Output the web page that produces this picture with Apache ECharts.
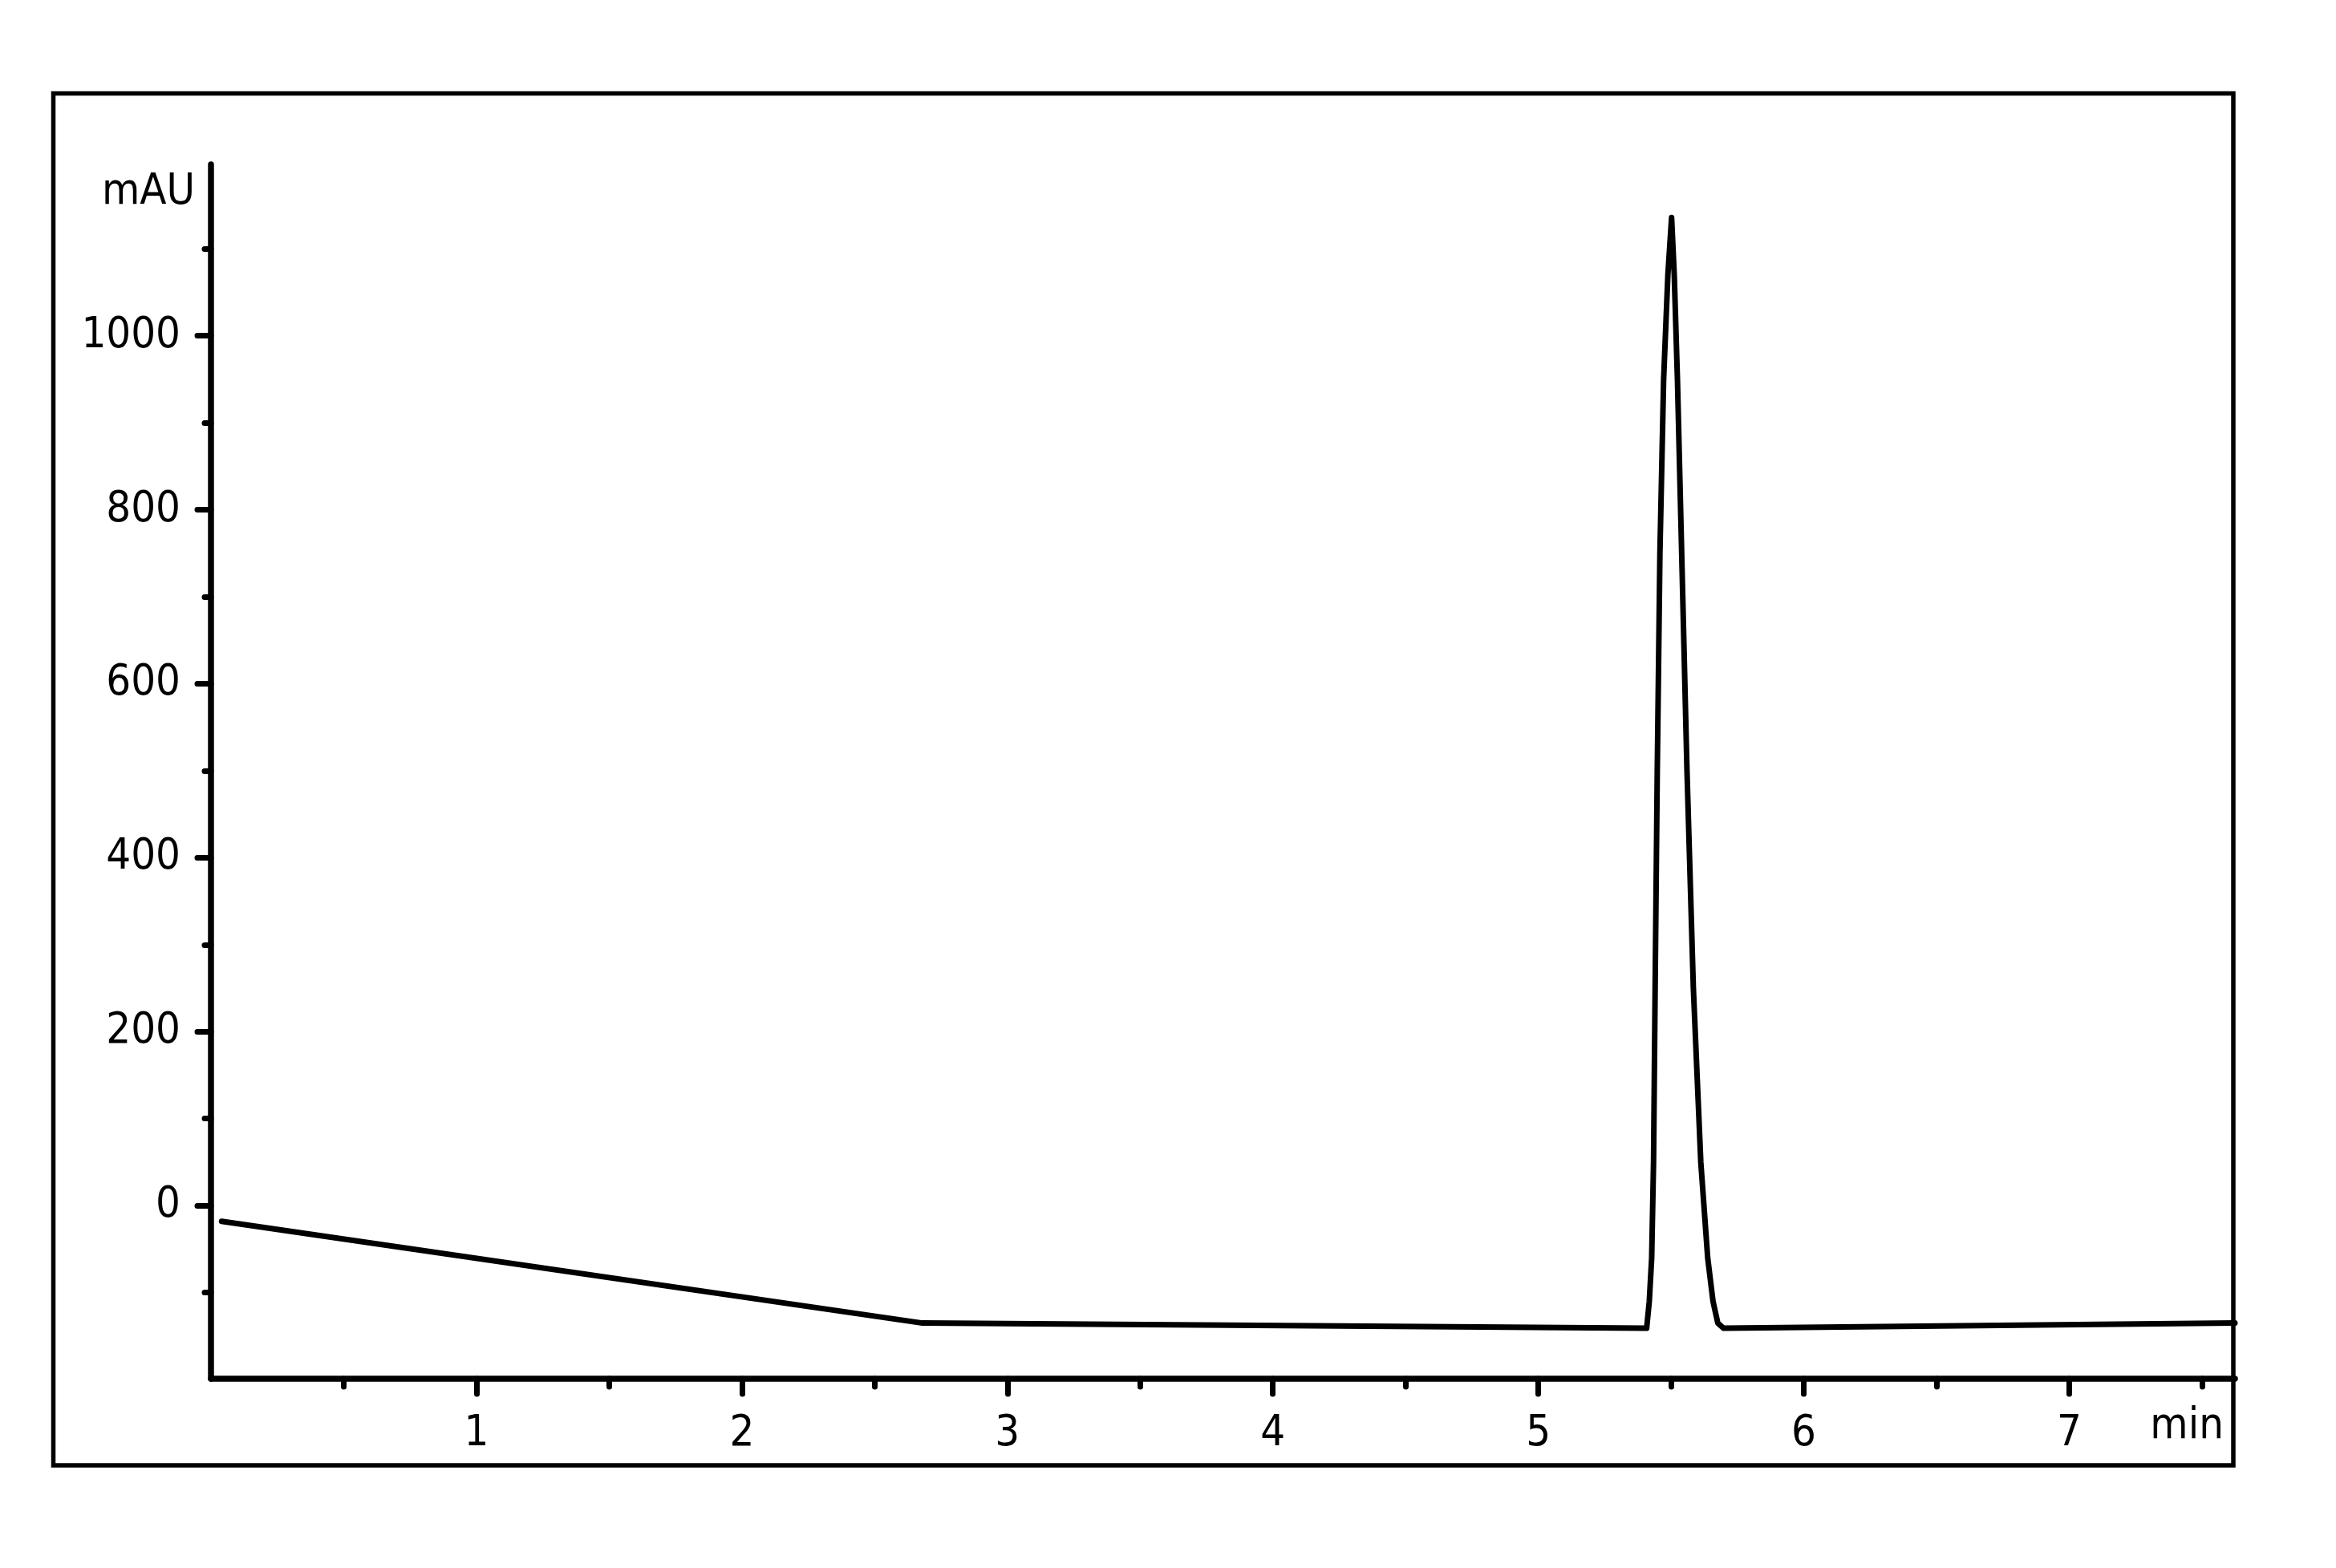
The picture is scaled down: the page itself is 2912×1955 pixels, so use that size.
<!DOCTYPE html>
<html>
<head>
    <meta charset="utf-8">
    <title>chromatogram</title>
    <style>
        html, body { margin: 0; padding: 0; background: #fff; }
    </style>
    <script src="https://cdn.jsdelivr.net/npm/echarts@6/dist/echarts.min.js"></script>
</head>
<body>
<div id="main" style="width: 2912px;height:1955px;"></div>
<script type="text/javascript">
    // retention time (min) and signal (mAU)
    var times = [0.04, 2.68, 5.408, 5.418, 5.427, 5.434, 5.440, 5.448, 5.458, 5.472, 5.488, 5.502,
        5.512, 5.524, 5.540, 5.560, 5.584, 5.612, 5.638, 5.658, 5.676, 5.698, 7.624];
    var signal = [-18, -135, -141, -110, -60, 50, 250, 500, 750, 950, 1070, 1136,
        1070, 950, 750, 500, 250, 50, -60, -110, -135, -141, -135];

    var xMajor = [1, 2, 3, 4, 5, 6, 7];
    var xMinor = [0.5, 1.5, 2.5, 3.5, 4.5, 5.5, 6.5, 7.5];
    var yMajor = [0, 200, 400, 600, 800, 1000];
    var yMinor = [-100, 100, 300, 500, 700, 900, 1100];

    var xRange = [0, 7.624];
    var yRange = [-199, 1197];

    var font = '"DejaVu Sans Condensed", "DejaVu Sans", sans-serif';

    var pts = [];
    for (var i = 0; i < times.length; i++) {
        pts.push([times[i], signal[i]]);
    }

    var myChart = echarts.init(document.getElementById('main'));

    var option = {
        backgroundColor: '#fff',
        animation: false,
        grid: {
            left: 263,
            right: 126,
            top: 205,
            bottom: 236
        },
        graphic: [{
            type: 'rect',
            shape: {x: 66.5, y: 116.5, width: 2717.5, height: 1710.5},
            style: {fill: 'none', stroke: '#000', lineWidth: 5.5},
            z: 10
        }],
        xAxis: [{
            type: 'value',
            min: xRange[0],
            max: xRange[1],
            name: 'min',
            nameLocation: 'end',
            nameGap: -14,
            nameTextStyle: {
                color: '#000',
                fontFamily: font,
                fontSize: 54,
                align: 'right',
                verticalAlign: 'top',
                padding: [33, 0, 0, 0]
            },
            axisLine: {show: true, onZero: false, lineStyle: {color: '#000', width: 7.5}},
            axisTick: {show: true, customValues: xMajor, length: 19, lineStyle: {color: '#000', width: 7, cap: 'round'}},
            axisLabel: {
                customValues: xMajor,
                color: '#000',
                fontFamily: font,
                fontSize: 54,
                margin: 42,
                formatter: function (v) { return String(v); }
            },
            splitLine: {show: false}
        }, {
            type: 'value',
            min: xRange[0],
            max: xRange[1],
            position: 'bottom',
            axisLine: {show: false, onZero: false},
            axisTick: {show: true, customValues: xMinor, length: 10, lineStyle: {color: '#000', width: 7, cap: 'round'}},
            axisLabel: {show: false},
            splitLine: {show: false}
        }],
        yAxis: [{
            type: 'value',
            min: yRange[0],
            max: yRange[1],
            name: 'mAU',
            nameLocation: 'end',
            nameGap: -35,
            nameTextStyle: {
                color: '#000',
                fontFamily: font,
                fontSize: 54,
                align: 'right',
                verticalAlign: 'middle',
                padding: [0, 20, 0, 0]
            },
            axisLine: {show: true, onZero: false, lineStyle: {color: '#000', width: 7.5}},
            axisTick: {show: true, customValues: yMajor, length: 17, lineStyle: {color: '#000', width: 7, cap: 'round'}},
            axisLabel: {
                customValues: yMajor,
                color: '#000',
                fontFamily: font,
                fontSize: 54,
                margin: 38,
                formatter: function (v) { return String(v); }
            },
            splitLine: {show: false}
        }, {
            type: 'value',
            min: yRange[0],
            max: yRange[1],
            position: 'left',
            axisLine: {show: false, onZero: false},
            axisTick: {show: true, customValues: yMinor, length: 8, lineStyle: {color: '#000', width: 7, cap: 'round'}},
            axisLabel: {show: false},
            splitLine: {show: false}
        }],
        series: [{
            name: 'signal',
            type: 'line',
            xAxisIndex: 0,
            yAxisIndex: 0,
            data: pts,
            symbol: 'none',
            smooth: false,
            lineStyle: {color: '#000', width: 7, join: 'round', cap: 'round'}
        }]
    };

    myChart.setOption(option);
</script>
</body>
</html>
